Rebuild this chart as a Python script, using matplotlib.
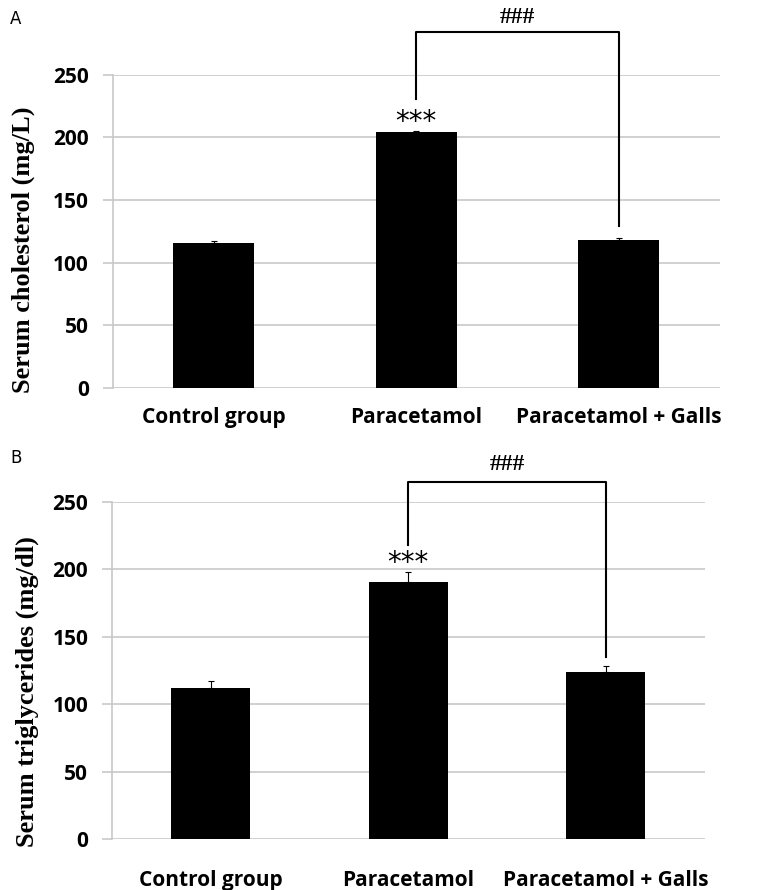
import matplotlib
matplotlib.use("Agg")
import matplotlib.pyplot as plt

# data
groups = ["Control group", "Paracetamol", "Paracetamol + Galls"]
chol = [116, 204, 118]
chol_err = [1, 1, 1.5]
trig = [112, 191, 124]
trig_err = [5, 7, 4]
yticks = [0, 50, 100, 150, 200, 250]

fig = plt.figure(figsize=(7.61, 8.9), dpi=100)
ax1 = fig.add_axes([0.148, 0.564, 0.798, 0.352])
ax2 = fig.add_axes([0.147, 0.0573, 0.779, 0.3787])

grid_col = "#c8c8c8"


def draw_panel(ax, vals, errs, ylabel, lab_x, lab_y, tick_pad,
               star_y, br_top, br_left, br_right, hash_y):
    x = range(len(groups))
    ax.bar(x, vals, width=0.4, color="black", zorder=3)
    ax.errorbar(x, vals, yerr=[[0] * len(errs), errs], fmt="none",
                ecolor="black", elinewidth=0.8, capsize=2.5, capthick=0.8, zorder=4)
    ax.set_xlim(-0.5, 2.5)
    ax.set_ylim(0, 250)
    ax.set_yticks(yticks)
    ax.yaxis.grid(True, color=grid_col, linewidth=1.2, zorder=0)
    ax.set_axisbelow(True)
    for s in ["top", "right", "bottom"]:
        ax.spines[s].set_visible(False)
    ax.spines["left"].set_color(grid_col)
    ax.spines["left"].set_linewidth(1.2)
    ax.tick_params(axis="y", length=7, width=1.2, color=grid_col, pad=10)
    ax.tick_params(axis="x", length=0, pad=tick_pad)
    ax.set_xticks(list(x))
    ax.set_xticklabels(groups, fontsize=15, fontweight="bold", family="Open Sans")
    for t in ax.get_yticklabels():
        t.set_fontsize(15)
        t.set_fontweight("bold")
        t.set_family("Open Sans")
    ax.set_ylabel(ylabel, fontsize=19, fontweight="bold", family="Liberation Serif")
    ax.yaxis.set_label_coords(lab_x, lab_y)
    # significance marks
    ax.text(1, star_y, "***", ha="center", va="center", fontsize=20,
            family="DejaVu Sans", clip_on=False)
    ax.plot([1, 1, 2, 2], [br_left, br_top, br_top, br_right], color="black",
            linewidth=1.5, clip_on=False)
    ax.text(1.5, hash_y, "###", ha="center", va="center", fontsize=17,
            fontweight="bold", family="Liberation Serif", clip_on=False)


draw_panel(ax1, chol, chol_err, "Serum cholesterol (mg/L)", -0.128, 0.44, 14,
           212, 284, 231, 129, 296)
draw_panel(ax2, trig, trig_err, "Serum triglycerides (mg/dl)", -0.123, 0.436, 22,
           205, 265, 218, 135, 278)

fig.text(0.013, 0.979, "A", fontsize=12, va="center")
fig.text(0.013, 0.485, "B", fontsize=12, va="center")

fig.savefig("out.png", dpi=100)
